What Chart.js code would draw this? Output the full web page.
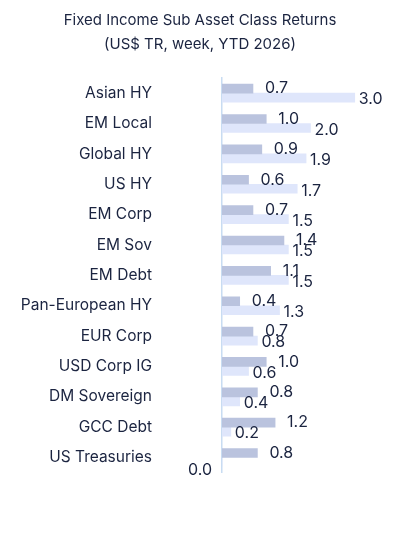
<!DOCTYPE html>
<html>
<head>
<meta charset="utf-8">
<script src="https://cdn.jsdelivr.net/npm/chart.js@4"></script>
<style>
  html, body { margin: 0; padding: 0; background: #fff; overflow: hidden; }
</style>
</head>
<body>
<canvas id="chart" width="405" height="544" style="width:405px;height:544px;display:block"></canvas>
<script>
const categories = ["Asian HY", "EM Local", "Global HY", "US HY", "EM Corp", "EM Sov", "EM Debt",
    "Pan-European HY", "EUR Corp", "USD Corp IG", "DM Sovereign", "GCC Debt", "US Treasuries"];
const weekValues = [0.7, 1.0, 0.9, 0.6, 0.7, 1.4, 1.1, 0.4, 0.7, 1.0, 0.8, 1.2, 0.8];
const ytdValues = [3.0, 2.0, 1.9, 1.7, 1.5, 1.5, 1.5, 1.3, 0.8, 0.6, 0.4, 0.2, 0.0];
const titleLines = ["Fixed Income Sub Asset Class Returns", "(US$ TR, week, YTD 2026)"];

const textColor = "#1b2440";
const fontFamily = "Inter, 'Open Sans', sans-serif";

// value labels + title
const labelPlugin = {
    id: "labels",
    afterDatasetsDraw(chart) {
        const ctx = chart.ctx;
        ctx.save();
        ctx.fillStyle = textColor;
        ctx.font = "16px " + fontFamily;
        ctx.textBaseline = "middle";
        const x0 = chart.scales.x.getPixelForValue(0);
        chart.getDatasetMeta(0).data.forEach(function (bar, i) {
            ctx.textAlign = "left";
            ctx.fillText(weekValues[i].toFixed(1), bar.x + 12, bar.y);
        });
        chart.getDatasetMeta(1).data.forEach(function (bar, i) {
            if (ytdValues[i] === 0) {
                ctx.textAlign = "right";
                ctx.fillText("0.0", x0 - 10, bar.y + 8);
            } else {
                ctx.textAlign = "left";
                ctx.fillText(ytdValues[i].toFixed(1), bar.x + 4, bar.y + 2);
            }
        });
        ctx.textAlign = "center";
        ctx.font = "15px " + fontFamily;
        ctx.fillText(titleLines[0], 200, 20);
        ctx.fillText(titleLines[1], 200, 44);
        ctx.restore();
    },
};

new Chart(document.getElementById("chart"), {
    type: "bar",
    data: {
        labels: categories,
        datasets: [
            { label: "Week", data: weekValues, backgroundColor: "#bac3de", barThickness: 9 },
            { label: "YTD", data: ytdValues, backgroundColor: "#dfe6fb", barThickness: 9 },
        ],
    },
    options: {
        indexAxis: "y",
        responsive: false,
        devicePixelRatio: 1,
        animation: false,
        layout: { padding: { top: 78, bottom: 10, left: 0, right: 6 } },
        plugins: {
            legend: { display: false },
            tooltip: { enabled: false },
        },
        scales: {
            x: {
                min: 0,
                max: 4,
                display: false,
            },
            y: {
                grid: { display: false },
                border: { display: true, color: "#c8dcf2", width: 1.5 },
                ticks: {
                    color: textColor,
                    font: { size: 15.5, family: fontFamily },
                    padding: 62,
                },
                afterFit: function (scale) {
                    scale.width = 222;
                },
            },
        },
    },
    plugins: [labelPlugin],
});
</script>
</body>
</html>
